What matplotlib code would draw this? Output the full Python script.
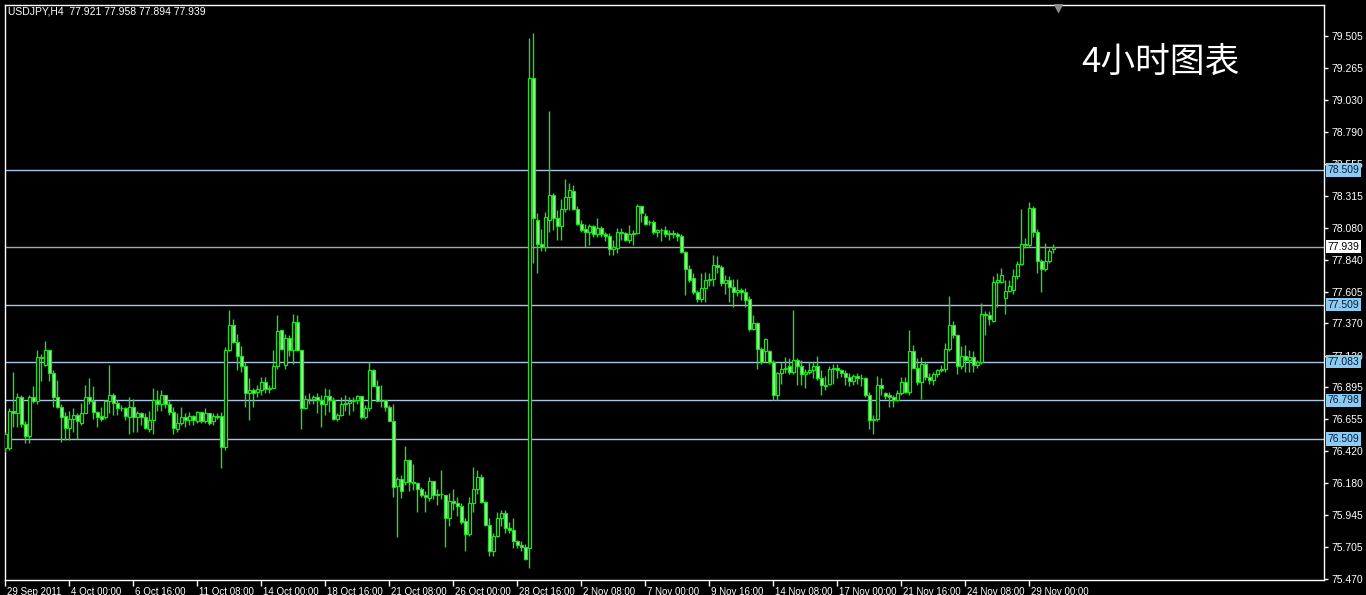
import matplotlib
matplotlib.use('Agg')
import matplotlib.pyplot as plt
import matplotlib.transforms as mtransforms
import numpy as np

# USDJPY H4 candles (one value per bar)
opens = [76.44, 76.44, 76.72, 76.70, 76.82, 76.62, 76.53, 76.82, 76.79, 77.12, 77.06, 77.17, 77.00, 76.82, 76.75, 76.68,
         76.59, 76.66, 76.69, 76.63, 76.70, 76.82, 76.79, 76.71, 76.68, 76.67, 76.79, 76.84, 76.78, 76.74, 76.74, 76.67,
         76.75, 76.67, 76.70, 76.67, 76.58, 76.65, 76.80, 76.77, 76.84, 76.77, 76.71, 76.58, 76.63, 76.67, 76.65, 76.68,
         76.64, 76.71, 76.64, 76.70, 76.64, 76.68, 76.68, 76.45, 77.17, 77.36, 77.23, 77.13, 77.05, 76.85, 76.87, 76.86,
         76.87, 76.93, 76.88, 76.89, 77.05, 77.32, 77.06, 77.26, 77.17, 77.38, 77.17, 76.74, 76.81, 76.81, 76.82, 76.80,
         76.77, 76.83, 76.80, 76.66, 76.69, 76.77, 76.78, 76.79, 76.80, 76.83, 76.67, 76.74, 77.02, 76.90, 76.79, 76.80,
         76.75, 76.64, 76.16, 76.21, 76.19, 76.35, 76.19, 76.18, 76.14, 76.09, 76.07, 76.20, 76.09, 76.10, 76.09, 75.92,
         76.05, 76.03, 76.01, 75.90, 75.80, 76.03, 76.14, 76.23, 76.04, 75.87, 75.68, 75.79, 75.92, 75.96, 75.85, 75.83,
         75.75, 75.72, 75.71, 75.70, 79.19, 78.14, 77.96, 77.94, 78.14, 78.32, 78.15, 78.09, 78.22, 78.31, 78.35, 78.22,
         78.11, 78.07, 78.05, 78.09, 78.03, 78.08, 78.03, 78.02, 77.92, 77.93, 78.05, 78.04, 77.99, 78.03, 78.04, 78.24,
         78.17, 78.12, 78.12, 78.05, 78.06, 78.06, 78.03, 78.04, 78.03, 78.02, 77.90, 77.77, 77.71, 77.60, 77.55, 77.63,
         77.69, 77.70, 77.80, 77.79, 77.67, 77.69, 77.64, 77.60, 77.62, 77.60, 77.55, 77.33, 77.37, 77.18, 77.16, 77.16,
         77.08, 76.84, 77.00, 77.03, 77.05, 77.01, 77.10, 77.05, 76.99, 77.01, 77.02, 77.05, 76.96, 76.91, 76.92, 77.03,
         77.04, 77.02, 77.00, 76.97, 76.94, 76.98, 76.96, 76.96, 76.84, 76.65, 76.66, 76.91, 76.85, 76.84, 76.82, 76.80,
         76.85, 76.93, 76.86, 77.16, 77.04, 76.93, 77.07, 76.97, 76.95, 76.99, 77.02, 77.03, 77.18, 77.36, 77.28, 77.05,
         77.13, 77.10, 77.12, 77.06, 77.08, 77.44, 77.43, 77.39, 77.68, 77.68, 77.56, 77.61, 77.62, 77.72, 77.81, 77.96,
         77.95, 78.23, 78.05, 77.83, 77.77, 77.83, 77.921]
highs = [76.56, 76.74, 77.01, 76.85, 76.84, 76.64, 76.84, 76.90, 77.17, 77.14, 77.24, 77.17, 77.02, 76.95, 76.77, 76.71,
         76.72, 76.74, 76.70, 76.78, 76.91, 76.96, 76.90, 76.72, 76.75, 76.80, 77.06, 76.85, 76.80, 76.76, 76.75, 76.82,
         76.81, 76.72, 76.71, 76.70, 76.72, 76.89, 76.87, 76.87, 76.84, 76.79, 76.75, 76.70, 76.75, 76.70, 76.71, 76.69,
         76.72, 76.71, 76.74, 76.70, 76.70, 76.70, 76.71, 77.19, 77.47, 77.40, 77.29, 77.20, 77.08, 76.96, 76.89, 76.91,
         76.97, 76.97, 76.91, 77.17, 77.43, 77.32, 77.29, 77.28, 77.44, 77.43, 77.17, 76.84, 76.85, 76.84, 76.85, 76.84,
         76.89, 76.88, 76.82, 76.70, 76.82, 76.84, 76.82, 76.82, 76.84, 76.83, 76.76, 77.08, 77.03, 76.95, 76.91, 76.80,
         76.76, 76.77, 76.23, 76.24, 76.46, 76.36, 76.32, 76.19, 76.15, 76.12, 76.23, 76.20, 76.14, 76.28, 76.09, 76.11,
         76.14, 76.08, 76.03, 75.92, 76.08, 76.30, 76.28, 76.25, 76.05, 75.92, 75.81, 75.97, 75.98, 75.98, 75.89, 75.92,
         75.76, 75.75, 75.73, 79.49, 79.53, 78.19, 78.07, 78.20, 78.95, 78.34, 78.21, 78.29, 78.44, 78.41, 78.40, 78.24,
         78.14, 78.11, 78.11, 78.10, 78.15, 78.09, 78.05, 78.04, 77.99, 78.08, 78.08, 78.05, 78.10, 78.06, 78.26, 78.24,
         78.19, 78.14, 78.14, 78.07, 78.08, 78.09, 78.06, 78.06, 78.05, 78.03, 77.91, 77.80, 77.74, 77.62, 77.74, 77.75,
         77.74, 77.88, 77.87, 77.80, 77.73, 77.72, 77.70, 77.70, 77.63, 77.63, 77.57, 77.43, 77.38, 77.19, 77.26, 77.17,
         77.10, 77.01, 77.08, 77.12, 77.11, 77.47, 77.11, 77.10, 77.03, 77.08, 77.08, 77.13, 77.02, 76.98, 77.05, 77.07,
         77.07, 77.03, 77.02, 77.00, 76.99, 77.00, 76.99, 76.97, 76.86, 76.69, 76.98, 76.96, 76.86, 76.86, 76.84, 76.87,
         76.97, 76.97, 77.32, 77.21, 77.11, 77.12, 77.08, 77.00, 77.01, 77.03, 77.06, 77.22, 77.57, 77.39, 77.29, 77.20,
         77.21, 77.17, 77.16, 77.10, 77.52, 77.46, 77.46, 77.72, 77.74, 77.78, 77.69, 77.69, 77.77, 77.83, 78.22, 78.00,
         78.27, 78.24, 78.07, 77.85, 77.97, 77.93, 77.958]
lows = [76.41, 76.43, 76.60, 76.60, 76.60, 76.48, 76.48, 76.78, 76.77, 76.94, 77.05, 76.94, 76.75, 76.74, 76.49, 76.50,
        76.50, 76.56, 76.51, 76.61, 76.70, 76.77, 76.66, 76.60, 76.64, 76.66, 76.70, 76.69, 76.69, 76.72, 76.65, 76.55,
        76.56, 76.56, 76.61, 76.58, 76.56, 76.55, 76.72, 76.72, 76.74, 76.69, 76.55, 76.56, 76.61, 76.60, 76.61, 76.61,
        76.63, 76.63, 76.63, 76.61, 76.61, 76.66, 76.29, 76.43, 77.16, 77.22, 77.02, 77.01, 76.75, 76.65, 76.75, 76.82,
        76.84, 76.85, 76.85, 76.89, 77.03, 77.17, 77.03, 77.13, 77.07, 77.17, 76.58, 76.73, 76.77, 76.77, 76.70, 76.60,
        76.69, 76.71, 76.65, 76.64, 76.68, 76.72, 76.69, 76.72, 76.77, 76.66, 76.66, 76.72, 76.90, 76.79, 76.75, 76.72,
        76.64, 76.08, 75.78, 76.07, 76.17, 76.12, 76.13, 75.97, 76.08, 75.97, 76.05, 76.06, 76.02, 76.06, 75.71, 75.86,
        75.98, 75.94, 75.88, 75.68, 75.79, 75.97, 76.10, 76.03, 75.86, 75.64, 75.64, 75.78, 75.86, 75.81, 75.81, 75.70,
        75.70, 75.68, 75.61, 75.55, 77.82, 77.74, 77.91, 77.91, 78.05, 78.06, 77.99, 77.99, 78.20, 78.21, 78.21, 78.10,
        78.05, 77.94, 77.95, 78.01, 78.01, 78.01, 77.98, 77.88, 77.88, 77.89, 77.99, 77.98, 77.97, 77.95, 78.03, 78.12,
        78.10, 78.10, 78.03, 78.01, 77.98, 78.01, 77.99, 78.00, 77.98, 77.89, 77.58, 77.68, 77.59, 77.53, 77.53, 77.53,
        77.65, 77.65, 77.74, 77.65, 77.59, 77.53, 77.49, 77.57, 77.54, 77.49, 77.31, 77.32, 77.03, 77.07, 77.08, 77.07,
        76.80, 76.80, 76.92, 77.00, 76.99, 76.99, 76.91, 76.91, 76.89, 76.99, 76.96, 76.95, 76.84, 76.87, 76.91, 76.92,
        76.96, 76.97, 76.91, 76.90, 76.91, 76.92, 76.90, 76.82, 76.58, 76.55, 76.64, 76.84, 76.81, 76.75, 76.75, 76.79,
        76.84, 76.85, 76.84, 77.04, 76.91, 76.81, 76.95, 76.92, 76.91, 76.97, 77.01, 77.01, 77.16, 77.26, 76.99, 77.03,
        77.01, 77.01, 77.01, 77.04, 77.07, 77.28, 77.36, 77.38, 77.49, 77.67, 77.44, 77.60, 77.59, 77.70, 77.80, 77.93,
        77.94, 78.01, 77.74, 77.60, 77.76, 77.82, 77.894]
closes = [76.55, 76.72, 76.70, 76.82, 76.62, 76.53, 76.82, 76.79, 77.12, 77.11, 77.17, 77.00, 76.82, 76.75, 76.67, 76.59,
          76.66, 76.69, 76.64, 76.70, 76.82, 76.79, 76.71, 76.67, 76.66, 76.79, 76.84, 76.78, 76.74, 76.74, 76.68, 76.75,
          76.67, 76.70, 76.67, 76.59, 76.65, 76.80, 76.77, 76.84, 76.77, 76.71, 76.59, 76.63, 76.67, 76.65, 76.68, 76.65,
          76.71, 76.64, 76.70, 76.63, 76.68, 76.67, 76.45, 77.17, 77.36, 77.23, 77.13, 77.05, 76.85, 76.87, 76.85, 76.88,
          76.93, 76.88, 76.89, 77.05, 77.31, 77.18, 77.26, 77.17, 77.38, 77.17, 76.74, 76.81, 76.81, 76.82, 76.80, 76.77,
          76.83, 76.80, 76.66, 76.69, 76.77, 76.78, 76.79, 76.80, 76.83, 76.67, 76.74, 77.02, 76.90, 76.79, 76.79, 76.75,
          76.64, 76.15, 76.21, 76.12, 76.35, 76.19, 76.18, 76.14, 76.09, 76.08, 76.20, 76.09, 76.10, 76.10, 75.92, 76.05,
          76.03, 76.01, 75.89, 75.80, 76.03, 76.14, 76.23, 76.04, 75.87, 75.68, 75.79, 75.92, 75.96, 75.85, 75.83, 75.75,
          75.72, 75.71, 75.62, 79.19, 78.15, 77.96, 77.94, 78.16, 78.32, 78.15, 78.09, 78.22, 78.31, 78.36, 78.22, 78.11,
          78.06, 78.05, 78.09, 78.03, 78.08, 78.03, 78.02, 77.92, 77.94, 78.05, 78.04, 77.99, 78.03, 78.04, 78.24, 78.19,
          78.11, 78.12, 78.05, 78.06, 78.06, 78.03, 78.04, 78.03, 78.02, 77.90, 77.77, 77.69, 77.60, 77.55, 77.63, 77.69,
          77.70, 77.80, 77.79, 77.67, 77.69, 77.64, 77.60, 77.62, 77.60, 77.54, 77.33, 77.37, 77.18, 77.08, 77.25, 77.08,
          76.84, 77.00, 77.03, 77.04, 77.01, 77.10, 77.05, 76.99, 77.01, 77.02, 77.05, 76.96, 76.91, 76.90, 77.03, 77.04,
          77.02, 77.00, 76.97, 76.94, 76.98, 76.96, 76.96, 76.84, 76.65, 76.66, 76.91, 76.89, 76.83, 76.82, 76.80, 76.85,
          76.93, 76.86, 77.16, 77.04, 76.93, 77.07, 76.97, 76.95, 76.99, 77.02, 77.03, 77.18, 77.36, 77.28, 77.05, 77.13,
          77.10, 77.12, 77.06, 77.08, 77.44, 77.43, 77.40, 77.68, 77.69, 77.73, 77.61, 77.65, 77.72, 77.81, 77.96, 77.95,
          78.23, 78.05, 77.83, 77.77, 77.83, 77.91, 77.939]

# price scale labels on the right
price_ticks = [79.505, 79.265, 79.030, 78.790, 78.555, 78.315, 78.080, 77.840, 77.605,
               77.370, 77.130, 76.895, 76.655, 76.420, 76.180, 75.945, 75.705, 75.470]

# time labels, one every 16 bars
time_labels = ['29 Sep 2011', '4 Oct 00:00', '6 Oct 16:00', '11 Oct 08:00', '14 Oct 00:00',
               '18 Oct 16:00', '21 Oct 08:00', '26 Oct 00:00', '28 Oct 16:00', '2 Nov 08:00',
               '7 Nov 00:00', '9 Nov 16:00', '14 Nov 08:00', '17 Nov 00:00', '21 Nov 16:00',
               '24 Nov 08:00', '29 Nov 00:00']

# horizontal levels
blue_levels = [78.509, 77.509, 77.083, 76.798, 76.509]
last_price = 77.939

green = '#1fe01f'
fig = plt.figure(figsize=(13.66, 5.95), dpi=100, facecolor='black')
ax = fig.add_axes([5 / 1366, 15 / 595, 1319 / 1366, 575 / 595])
ax.set_facecolor('black')

o = np.array(opens); h = np.array(highs); l = np.array(lows); c = np.array(closes)
x = np.arange(len(o))
up = c >= o

ax.vlines(x, l, h, color=green, lw=1, zorder=3)
ax.bar(x[up], (c - o)[up], bottom=o[up], width=0.72, color='black',
       edgecolor=green, linewidth=0.9, zorder=4)
ax.bar(x[~up], (o - c)[~up], bottom=c[~up], width=0.72, color='#9ff09f',
       edgecolor=green, linewidth=0.9, zorder=4)

for lv in blue_levels:
    ax.axhline(lv, color='#a9c4e4', lw=1, zorder=2)
ax.axhline(last_price, color='#a6a6a6', lw=1, zorder=2)

ax.set_xlim(-0.1, 329.7)
ax.set_ylim(75.461, 79.736)

for s in ax.spines.values():
    s.set_color('white')
    s.set_linewidth(1)

ax.yaxis.tick_right()
ax.set_yticks(price_ticks)
ax.set_yticklabels(['%.3f' % v for v in price_ticks])
ax.tick_params(axis='y', colors='white', labelsize=7.5, length=3, width=1, pad=2)

ax.set_xticks(np.arange(0, 16 * len(time_labels), 16))
ax.set_xticklabels(time_labels)
ax.tick_params(axis='x', colors='white', labelsize=7, length=4, width=1, pad=1)
offset = mtransforms.ScaledTranslation(2 / 100, 0, fig.dpi_scale_trans)
for lab in ax.get_xticklabels():
    lab.set_horizontalalignment('left')
    lab.set_transform(lab.get_transform() + offset)

for lab in ax.get_xticklabels() + ax.get_yticklabels():
    lab.set_family('Liberation Sans')

# boxed labels of the levels
trans = mtransforms.blended_transform_factory(ax.transAxes, ax.transData)
for lv in blue_levels:
    ax.text(1.0025, lv, '%.3f' % lv, transform=trans, fontsize=7.5, family='Liberation Sans',
            color='#0a1a3a', va='center', ha='left', zorder=10, clip_on=False,
            bbox=dict(boxstyle='square,pad=0.15', fc='#8ccbf2', ec='none'))
ax.text(1.0025, last_price, '%.3f' % last_price, transform=trans, fontsize=7.5,
        family='Liberation Sans', color='black', va='center', ha='left', zorder=10,
        clip_on=False, bbox=dict(boxstyle='square,pad=0.15', fc='white', ec='none'))

fig.text(8 / 1366, 1 - 12 / 595, 'USDJPY,H4  %.3f %.3f %.3f %.3f' % (o[-1], h[-1], l[-1], c[-1]),
         color='white', fontsize=7.5, family='Liberation Sans', va='center', ha='left')

fig.text(1160 / 1366, 1 - 62 / 595, '4小时图表', color='white', fontsize=25,
         family=['Noto Sans CJK SC', 'DejaVu Sans'], fontweight='light',
         va='center', ha='center', zorder=10)

# chart shift marker
ax.scatter([(1058 - 5) / 1319], [1 - 3 / 575], marker='v', s=30, color='#8a8a8a',
           transform=ax.transAxes, clip_on=False, zorder=10)

fig.savefig('out.png', dpi=100, facecolor='black')
